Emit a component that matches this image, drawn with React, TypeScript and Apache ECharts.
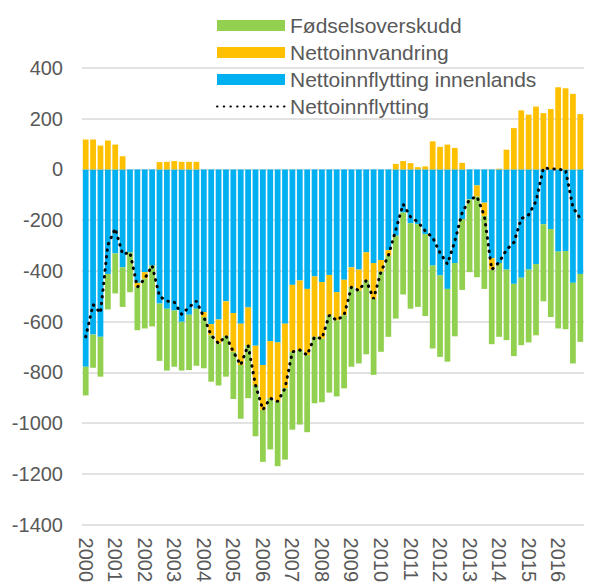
import React, { useEffect, useRef } from "react";
import * as echarts from "echarts";

const years = ["2000","2001","2002","2003","2004","2005","2006","2007","2008","2009","2010","2011","2012","2013","2014","2015","2016"];
const quarters = years.flatMap((y) => [y + "K1", y + "K2", y + "K3", y + "K4"]);

// Nettoinnflytting innenlands (blue)
const innenlands = [
  -778, -651, -660, -412, -331, -386, -327, -447, -405, -379, -529, -549, -556, -601, -573, -549,
  -562, -610, -592, -520, -566, -608, -544, -695, -771, -677, -682, -608, -455, -438, -471, -422,
  -444, -416, -484, -435, -386, -395, -327, -369, -357, -318, -261, -170, -212, -216, -255, -379,
  -418, -471, -369, -196, -118, -63, -131, -350, -369, -395, -451, -427, -395, -373, -216, -235,
  -324, -322, -447, -412,
];
// Nettoinnvandring (yellow)
const innvandring = [
  118, 118, 94, 114, 98, 52, 0, -17, -26, 0, 29, 30, 33, 30, 30, 30,
  -20, -44, -94, -136, -153, -163, -149, -155, -177, -225, -233, -255, -264, -274, -261, -238,
  -223, -159, -111, -140, -78, -82, -111, -141, -46, -22, 22, 33, 25, 9, 12, 111,
  89, 98, 85, 26, 0, -44, -52, -45, 3, 78, 163, 233, 216, 248, 222, 238,
  324, 320, 298, 218,
];
// Fødselsoverskudd (green)
const fodsel = [
  -113, -131, -157, -140, -158, -156, -157, -170, -196, -240, -226, -244, -222, -192, -218, -225,
  -202, -183, -166, -161, -186, -212, -209, -202, -205, -202, -255, -281, -307, -294, -304, -262,
  -251, -305, -300, -288, -314, -288, -291, -300, -316, -320, -327, -323, -337, -326, -323, -327,
  -321, -287, -289, -279, -287, -318, -288, -294, -291, -278, -285, -266, -287, -281, -304, -347,
  -303, -308, -318, -268,
];
// Nettoinnflytting (dotted line)
const nettoinnflytting = [
  -660, -533, -566, -298, -233, -334, -327, -464, -431, -379, -500, -519, -523, -571, -543, -519,
  -582, -654, -686, -656, -719, -771, -693, -850, -948, -902, -915, -863, -719, -712, -732, -660,
  -667, -575, -595, -575, -464, -477, -438, -510, -403, -340, -239, -137, -187, -207, -243, -268,
  -329, -373, -284, -170, -118, -107, -183, -395, -366, -317, -288, -194, -179, -125, 6, 3,
  0, -2, -149, -194,
];

const FONT = "'Liberation Sans', Arial, sans-serif";
const TXT = "#595959";

export default function App() {
  const ref = useRef<HTMLDivElement>(null);
  useEffect(() => {
    if (!ref.current) return;
    const chart = echarts.init(ref.current, undefined, { renderer: "svg" });
    chart.setOption({
      animation: false,
      textStyle: { fontFamily: FONT },
      legend: {
        orient: "vertical",
        left: 211,
        top: 10,
        itemWidth: 68,
        itemHeight: 11,
        itemGap: 6,
        textStyle: { fontSize: 21, color: TXT, fontFamily: FONT },
        data: [
          { name: "Fødselsoverskudd", icon: "rect" },
          { name: "Nettoinnvandring", icon: "rect" },
          { name: "Nettoinnflytting innenlands", icon: "rect" },
          { name: "Nettoinnflytting", itemStyle: { opacity: 0 } },
        ],
      },
      grid: { left: 82, right: 9, top: 68, bottom: 58 },
      xAxis: {
        type: "category",
        data: quarters,
        axisLine: { show: false },
        axisTick: { show: false },
        axisLabel: {
          interval: 3,
          rotate: -90,
          margin: 13,
          fontSize: 20,
          color: TXT,
          fontFamily: FONT,
          formatter: (v: string) => v.slice(0, 4),
        },
      },
      yAxis: {
        type: "value",
        min: -1400,
        max: 400,
        interval: 200,
        axisLine: { show: false },
        axisTick: { show: false },
        axisLabel: {
          fontSize: 20,
          color: TXT,
          margin: 19,
          fontFamily: FONT,
          formatter: (v: number) => String(v),
        },
        splitLine: { lineStyle: { color: "#d9d9d9", width: 1.5 } },
      },
      series: [
        {
          name: "Nettoinnflytting innenlands",
          type: "bar",
          stack: "s",
          data: innenlands,
          barCategoryGap: "22%",
          itemStyle: { color: "#00B0F0" },
        },
        {
          name: "Nettoinnvandring",
          type: "bar",
          stack: "s",
          data: innvandring,
          itemStyle: { color: "#FFC000" },
        },
        {
          name: "Fødselsoverskudd",
          type: "bar",
          stack: "s",
          data: fodsel,
          itemStyle: { color: "#92D050" },
        },
        {
          name: "Nettoinnflytting",
          type: "line",
          data: nettoinnflytting,
          symbol: "none",
          z: 5,
          itemStyle: { color: "#000" },
          lineStyle: { color: "#000", width: 3, type: [0.5, 6.2], cap: "round" },
        },
      ],
    });
    return () => chart.dispose();
  }, []);
  return (
    <div
      ref={ref}
      style={{ position: "absolute", left: 0, top: 0, width: 593, height: 585, background: "#fff" }}
    />
  );
}
